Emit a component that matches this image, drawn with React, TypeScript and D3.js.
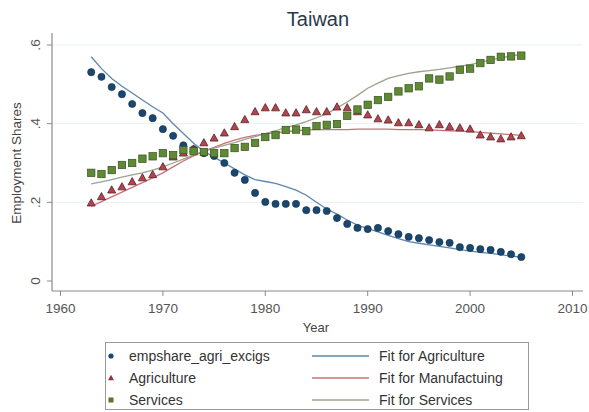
import React from "react";
import * as d3 from "d3";

const years: number[] = d3.range(1963, 2006);

const agriShare: number[] = [
  0.531, 0.519, 0.493, 0.475, 0.45, 0.427, 0.414, 0.386, 0.369, 0.345,
  0.335, 0.325, 0.318, 0.3, 0.275, 0.257, 0.224, 0.201, 0.196, 0.196,
  0.196, 0.18, 0.18, 0.178, 0.16, 0.145, 0.135, 0.132, 0.135, 0.127,
  0.119, 0.112, 0.109, 0.104, 0.099, 0.097, 0.086, 0.084, 0.081, 0.079,
  0.074, 0.068, 0.061,
];

const manuShare: number[] = [
  0.198, 0.214, 0.231, 0.239, 0.252, 0.262, 0.27, 0.29, 0.315, 0.325,
  0.335, 0.351, 0.363, 0.376, 0.392, 0.41, 0.43, 0.44, 0.44, 0.427,
  0.427, 0.435, 0.43, 0.43, 0.442, 0.44, 0.43, 0.422, 0.412, 0.409,
  0.402, 0.402, 0.397, 0.389, 0.397, 0.392, 0.389, 0.386, 0.371, 0.366,
  0.361, 0.366, 0.369,
];

const servShare: number[] = [
  0.275, 0.272, 0.282, 0.295, 0.3, 0.311, 0.317, 0.325, 0.32, 0.333,
  0.33, 0.328, 0.325, 0.325, 0.338, 0.341, 0.351, 0.366, 0.371, 0.384,
  0.385, 0.381, 0.394, 0.397, 0.399, 0.42, 0.436, 0.448, 0.46, 0.468,
  0.482, 0.49, 0.495, 0.515, 0.512, 0.52, 0.537, 0.54, 0.554, 0.562,
  0.57, 0.571, 0.573,
];

const agriFit: number[] = [
  0.57, 0.54, 0.515, 0.495, 0.478, 0.46, 0.443, 0.427, 0.4, 0.375,
  0.35, 0.33, 0.315, 0.3, 0.285, 0.27, 0.258, 0.253, 0.248, 0.24,
  0.231, 0.218, 0.2, 0.183, 0.17, 0.155, 0.142, 0.133, 0.125, 0.116,
  0.108, 0.1, 0.096, 0.092, 0.088, 0.084, 0.08, 0.076, 0.073, 0.07,
  0.067, 0.063, 0.061,
];

const manuFit: number[] = [
  0.19, 0.202, 0.214, 0.226, 0.238, 0.25, 0.262, 0.275, 0.29, 0.305,
  0.318, 0.33, 0.34, 0.35, 0.358, 0.365, 0.37, 0.374, 0.377, 0.38,
  0.382, 0.384, 0.385, 0.385, 0.385, 0.385, 0.386, 0.386, 0.386, 0.386,
  0.385, 0.385, 0.385, 0.384, 0.383, 0.382, 0.381, 0.38, 0.378, 0.376,
  0.374, 0.372, 0.37,
];

const servFit: number[] = [
  0.247, 0.252, 0.258, 0.264, 0.27, 0.275, 0.282, 0.29, 0.3, 0.31,
  0.32, 0.33, 0.338, 0.345, 0.352, 0.36, 0.367, 0.375, 0.382, 0.39,
  0.397, 0.405, 0.415, 0.425, 0.44, 0.455, 0.472, 0.49, 0.503, 0.515,
  0.522, 0.528, 0.532, 0.535, 0.538, 0.542, 0.546, 0.55, 0.556, 0.562,
  0.567, 0.572, 0.576,
];

const xTicks: number[] = [1960, 1970, 1980, 1990, 2000, 2010];
const yTicks: number[] = [0, 0.2, 0.4, 0.6];
const yTickLabels: string[] = ["0", ".2", ".4", ".6"];

const FONT = "'Liberation Sans', Arial, Helvetica, sans-serif";
const C_NAVY = "#1a476f";
const C_MAROON = "#90353b";
const C_GREEN = "#55752f";
const C_FIT_A = "#5d86b0";
const C_FIT_M = "#c8717a";
const C_FIT_S = "#9aa38c";

export default function App() {
  const W = 589;
  const H = 412;
  const x = d3.scaleLinear().domain([1960, 2010]).range([60.5, 572.5]);
  const y = d3.scaleLinear().domain([0, 0.6]).range([281, 45]);
  const plotL = 52;
  const plotR = 583;
  const axisY = 291;

  const line = d3
    .line<[number, number]>()
    .x((d) => x(d[0]))
    .y((d) => y(d[1]));

  const pts = (vals: number[]) => years.map((yr, i) => [yr, vals[i]] as [number, number]);

  const tri = (cx: number, cy: number, s: number) => {
    const h = s * 0.9;
    return `M${cx},${cy - h * 0.6} L${cx + s / 2},${cy + h * 0.4} L${cx - s / 2},${cy + h * 0.4} Z`;
  };

  const legendRows = [
    { y: 356, label: "empshare_agri_excigs", marker: "circle", fit: "Fit for Agriculture", fc: C_FIT_A },
    { y: 378, label: "Agriculture", marker: "tri", fit: "Fit for Manufactuing", fc: C_FIT_M },
    { y: 400, label: "Services", marker: "sq", fit: "Fit for Services", fc: C_FIT_S },
  ];

  return (
    <svg
      width={W}
      height={H}
      style={{ position: "absolute", left: 0, top: 0, background: "#fff" }}
      fontFamily={FONT}
    >
      <rect x={0} y={0} width={W} height={H} fill="#ffffff" />
      {/* title */}
      <text x={318} y={26} textAnchor="middle" fontSize={20} fill="#2a3a4d">
        Taiwan
      </text>

      {/* gridlines */}
      {yTicks.slice(1).map((t) => (
        <line key={"g" + t} x1={plotL} x2={plotR} y1={y(t)} y2={y(t)} stroke="#eaeff2" strokeWidth={1} />
      ))}

      {/* axes */}
      <line x1={plotL} x2={plotL} y1={33} y2={axisY} stroke="#8a8a8a" strokeWidth={1.2} />
      <line x1={plotL} x2={plotR} y1={axisY} y2={axisY} stroke="#8a8a8a" strokeWidth={1.2} />
      {yTicks.map((t, i) => (
        <g key={"yt" + t}>
          <line x1={plotL - 5} x2={plotL} y1={y(t)} y2={y(t)} stroke="#8a8a8a" />
          <text
            transform={`translate(${40},${y(t)}) rotate(-90)`}
            textAnchor="middle"
            fontSize={13.5}
            fill="#555"
          >
            {yTickLabels[i]}
          </text>
        </g>
      ))}
      {xTicks.map((t) => (
        <g key={"xt" + t}>
          <line x1={x(t)} x2={x(t)} y1={axisY} y2={axisY + 5} stroke="#8a8a8a" />
          <text x={x(t)} y={313} textAnchor="middle" fontSize={13.5} fill="#555">
            {t}
          </text>
        </g>
      ))}
      <text
        transform={`translate(${21},${163}) rotate(-90)`}
        textAnchor="middle"
        fontSize={13.5}
        fill="#444"
      >
        Employment Shares
      </text>
      <text x={316} y={332} textAnchor="middle" fontSize={13} fill="#444">
        Year
      </text>

      {/* fit lines */}
      <path d={line(pts(agriFit)) || ""} fill="none" stroke={C_FIT_A} strokeWidth={1.3} />
      <path d={line(pts(manuFit)) || ""} fill="none" stroke={C_FIT_M} strokeWidth={1.3} />
      <path d={line(pts(servFit)) || ""} fill="none" stroke={C_FIT_S} strokeWidth={1.3} />

      {/* markers */}
      {years.map((yr, i) => (
        <circle key={"a" + yr} cx={x(yr)} cy={y(agriShare[i])} r={3.6} fill={C_NAVY} stroke="#0f2e4a" strokeWidth={0.6} />
      ))}
      {years.map((yr, i) => (
        <path key={"m" + yr} d={tri(x(yr), y(manuShare[i]), 8)} fill="#b0454f" stroke="#5a2025" strokeWidth={0.8} />
      ))}
      {years.map((yr, i) => (
        <rect
          key={"s" + yr}
          x={x(yr) - 3.7}
          y={y(servShare[i]) - 3.7}
          width={7.4}
          height={7.4}
          fill="#5e8a34"
          stroke="#3a4f22"
          strokeWidth={0.7}
        />
      ))}

      {/* legend */}
      <rect x={105.5} y={342.5} width={423} height={67} fill="#fff" stroke="#9a9a9a" strokeWidth={1} />
      {legendRows.map((r) => (
        <g key={r.label}>
          {r.marker === "circle" && <circle cx={111} cy={r.y} r={2.6} fill={C_NAVY} />}
          {r.marker === "tri" && <path d={tri(111, r.y, 6)} fill={C_MAROON} />}
          {r.marker === "sq" && <rect x={108.5} y={r.y - 2.5} width={5} height={5} fill={C_GREEN} />}
          <text x={129} y={r.y + 5} fontSize={14} fill="#333">
            {r.label}
          </text>
          <line x1={312} x2={369} y1={r.y} y2={r.y} stroke={r.fc} strokeWidth={1.3} />
          <text x={379} y={r.y + 5} fontSize={14} fill="#333">
            {r.fit}
          </text>
        </g>
      ))}
    </svg>
  );
}
